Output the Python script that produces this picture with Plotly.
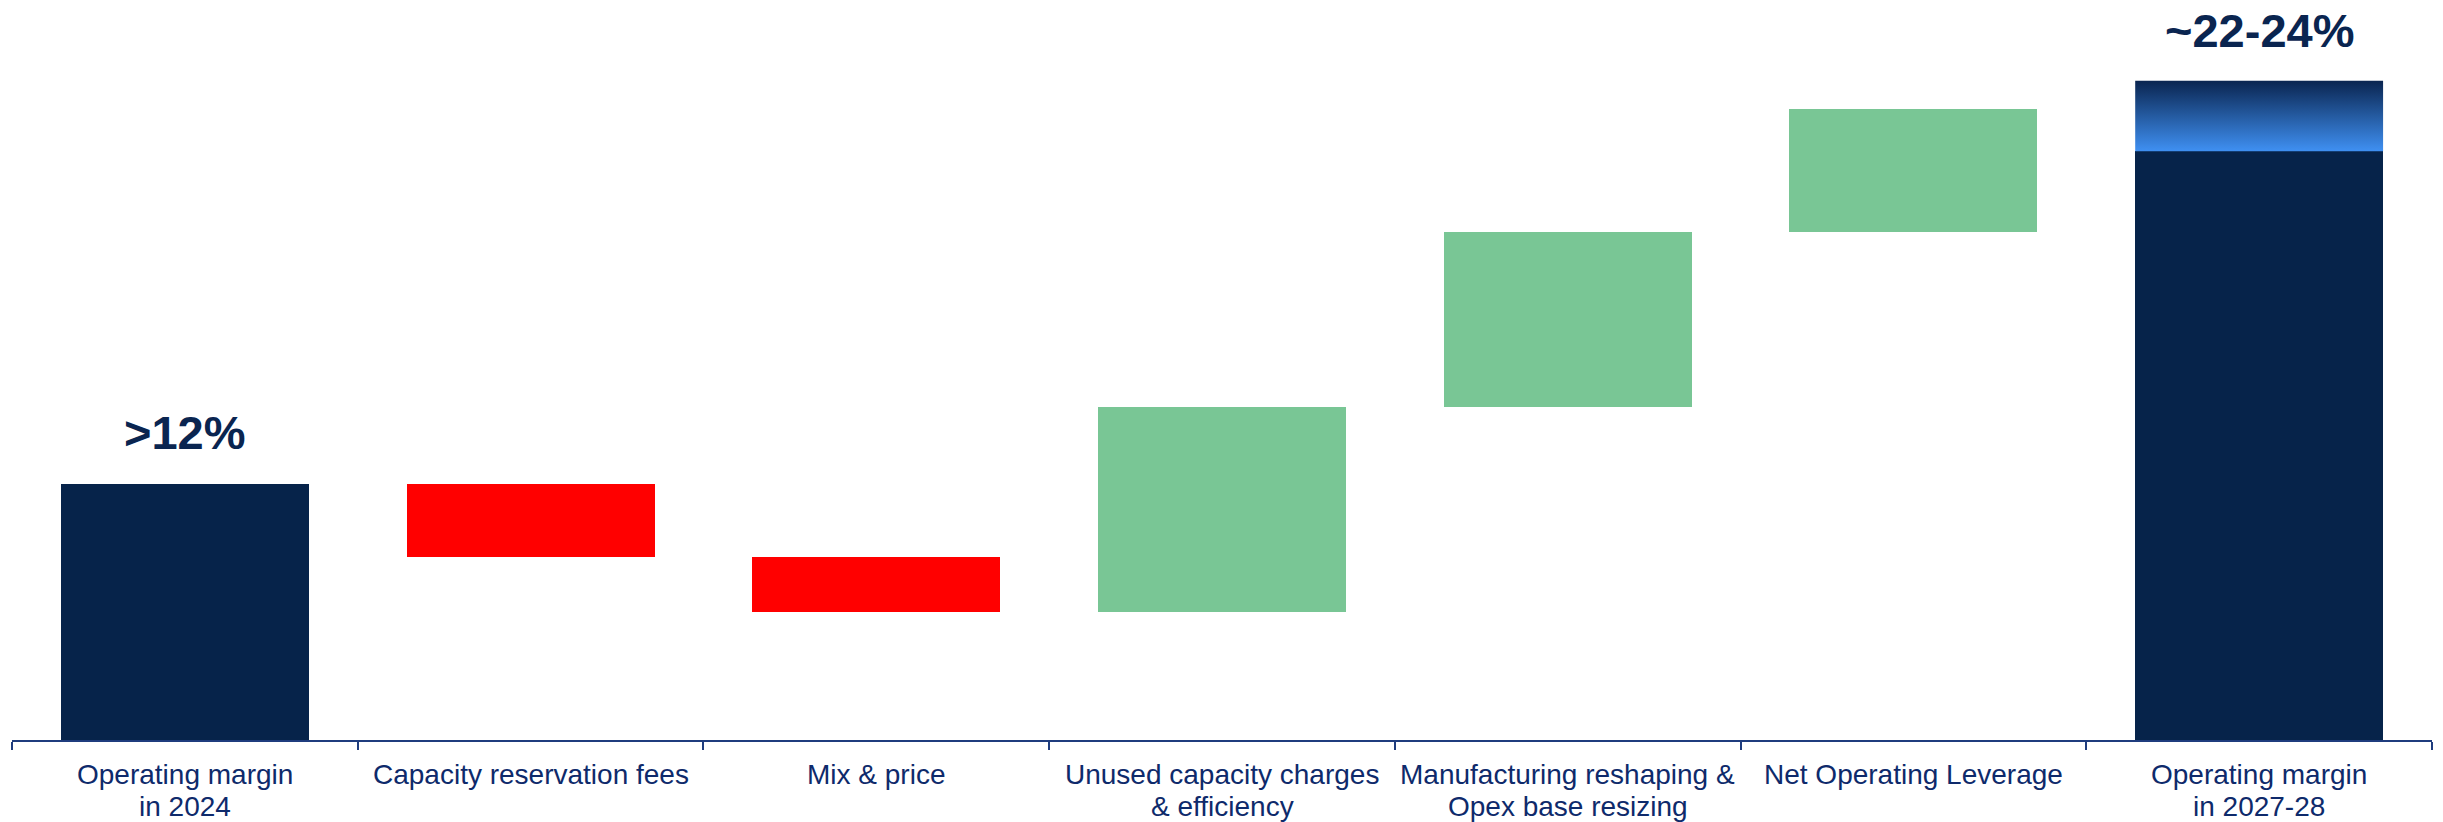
import plotly.graph_objects as go

# ---------------- data ----------------
categories = [
    "Operating margin<br>in 2024",
    "Capacity reservation fees",
    "Mix & price",
    "Unused capacity charges<br>& efficiency",
    "Manufacturing reshaping &<br>Opex base resizing",
    "Net Operating Leverage",
    "Operating margin<br>in 2027-28",
]
start_value = 12.0
delta_values = [-3.4, -2.6, 9.6, 8.2, 5.8]
end_low = 27.6
end_high = 30.9
start_label = ">12%"
end_label = "~22-24%"

# ---------------- style ----------------
NAVY = "#06234A"
RED = "#FF0000"
GREEN = "#79C695"
LABEL_NAVY = "#0A2550"
TICK_TEXT = "#0E2A6B"
AXIS_COLOR = "#1F3C7E"
GRAD_TOP = "#0A2550"
GRAD_BOTTOM = "#3F90F2"
BAR_W = 0.717

n = len(categories)
xs = list(range(n))

# running bases for the waterfall
bases = [0.0]
heights = [start_value]
colors = [NAVY]
running = start_value
for d in delta_values:
    bases.append(running)
    heights.append(d)
    colors.append(GREEN if d > 0 else RED)
    running += d
bases.append(0.0)
heights.append(end_low)
colors.append(NAVY)

fig = go.Figure()
fig.add_trace(go.Bar(
    x=xs, y=heights, base=bases, width=BAR_W,
    marker=dict(color=colors, line=dict(width=0)),
    hoverinfo="skip", showlegend=False,
))

# gradient cap of the final bar (range end_low .. end_high)
xl = xs[-1] - BAR_W / 2
xr = xs[-1] + BAR_W / 2
fig.add_trace(go.Scatter(
    x=[xl, xr, xr, xl, xl],
    y=[end_low, end_low, end_high, end_high, end_low],
    mode="lines", line=dict(width=0), fill="toself",
    fillgradient=dict(type="vertical",
                      colorscale=[[0, GRAD_BOTTOM], [1, GRAD_TOP]]),
    hoverinfo="skip", showlegend=False,
))

# value labels
fig.add_annotation(x=xs[0], y=start_value, text=f"<b>{start_label}</b>",
                   showarrow=False, yanchor="bottom", yshift=23,
                   font=dict(family="Liberation Sans, Arial", size=47, color=LABEL_NAVY))
fig.add_annotation(x=xs[-1], y=end_high, text=f"<b>{end_label}</b>",
                   showarrow=False, yanchor="bottom", yshift=22,
                   font=dict(family="Liberation Sans, Arial", size=47, color=LABEL_NAVY))

# category labels (one annotation per line for tight line spacing)
for i, cat in enumerate(categories):
    for k, line in enumerate(cat.split("<br>")):
        fig.add_annotation(
            x=xs[i], y=0, xref="x", yref="y", text=line, showarrow=False,
            yanchor="middle", yshift=-34 - 32 * k,
            font=dict(family="Liberation Sans, Arial", size=28, color=TICK_TEXT),
        )

fig.update_layout(
    width=2443, height=822,
    margin=dict(l=12, r=11, t=21, b=82),
    paper_bgcolor="white", plot_bgcolor="white",
    barmode="overlay", bargap=0,
    showlegend=False,
)
fig.update_xaxes(
    range=[-0.5, n - 0.5],
    tickvals=[i - 0.5 for i in range(n + 1)],
    showticklabels=False,
    ticks="outside", ticklen=8, tickwidth=1.5, tickcolor=AXIS_COLOR,
    showline=True, linecolor=AXIS_COLOR, linewidth=1.5,
    showgrid=False, zeroline=False, fixedrange=True,
)
fig.update_yaxes(
    range=[0, 719 / (256 / start_value)],
    visible=False, showgrid=False, zeroline=False, fixedrange=True,
)

fig.write_html("out.html")
